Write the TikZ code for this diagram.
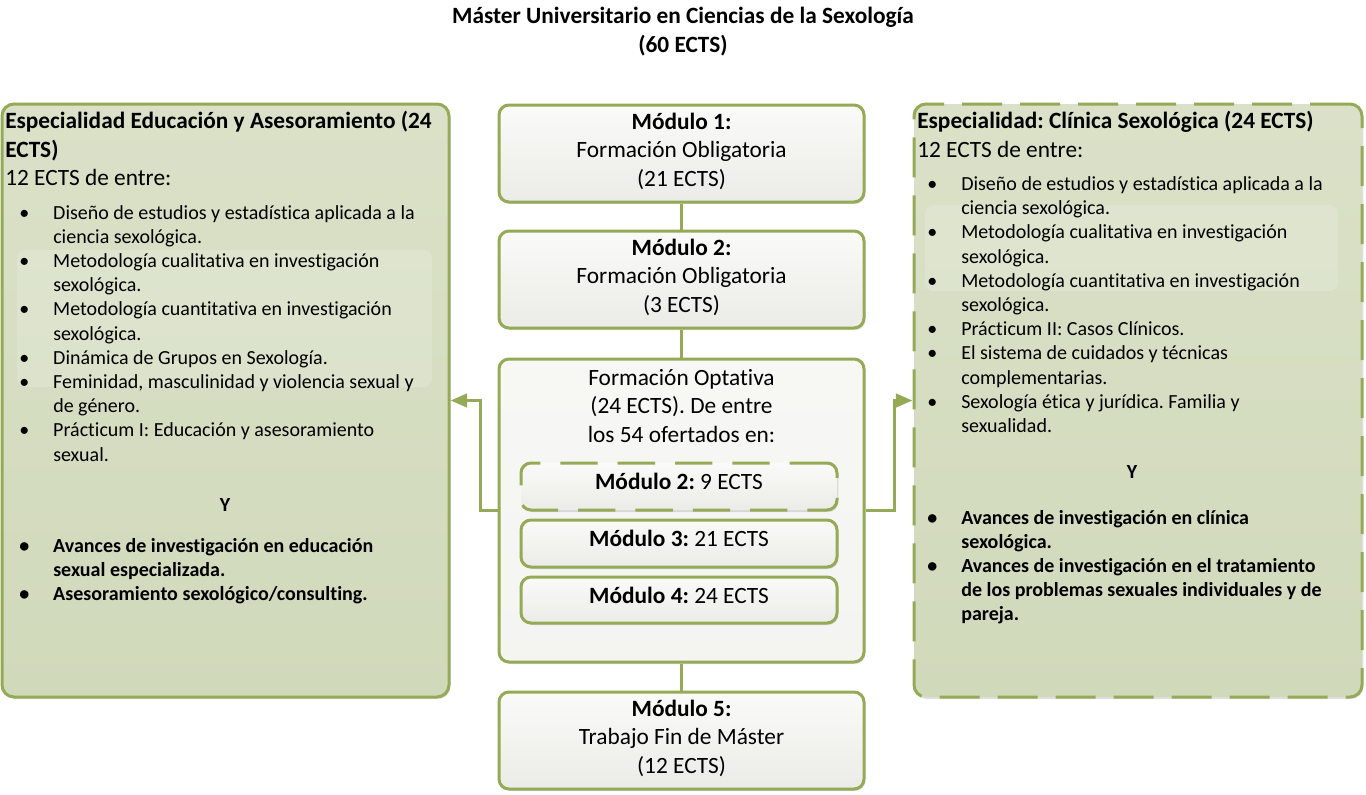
\documentclass[tikz,border=0pt]{standalone}
\usepackage{fontspec}
\setmainfont{Carlito}[Ligatures=NoCommon]
\usetikzlibrary{arrows.meta,shadows}
\definecolor{olv}{RGB}{148,170,86}
\definecolor{sidetop}{RGB}{218,225,200}
\definecolor{sidebot}{RGB}{209,217,187}
\definecolor{boxtop}{RGB}{250,250,248}
\definecolor{boxbot}{RGB}{235,236,231}
\newcommand\bigf{\fontsize{17.5pt}{21.4pt}\selectfont}
\newcommand\smf{\fontsize{15pt}{18.15pt}\selectfont}
\newcommand\bul{\par\hangindent=25.5pt\hangafter=1\noindent\makebox[25.5pt][l]{\textbullet}}
\newcommand\lowpad[1]{\rule[-#1]{0pt}{0pt}}
\frenchspacing
\tikzset{
  shd/.style={drop shadow={shadow xshift=1pt,shadow yshift=-1.5pt,opacity=0.25}},
  cbox/.style={draw=olv, line width=2.25pt, rounded corners=7.5pt, top color=boxtop, bottom color=boxbot,
    shd, font=\bigf, align=center, inner sep=0pt, minimum width=365*0.75pt, minimum height=97*0.75pt},
  ibox/.style={cbox, minimum width=316*0.75pt, minimum height=47*0.75pt},
  sbox/.style={draw=olv, line width=2.25pt, rounded corners=9pt, top color=sidetop, bottom color=sidebot,
    shd, inner sep=0pt, minimum width=447*0.75pt, minimum height=593*0.75pt},
  conn/.style={draw=olv, line width=2.5pt},
  arr/.style={conn, -{Triangle[length=12.5pt,width=10pt]}},
  txt/.style={anchor=base west, inner sep=0pt},
}
\begin{document}
\begin{tikzpicture}[x=0.75pt,y=-0.75pt]
\useasboundingbox (0,0) rectangle (1366,794);

% title
\node[font=\bigf\bfseries, align=center] (title) at (683,31.5) {Máster Universitario en Ciencias de la Sexología\\(60 ECTS)};

% side boxes
\node[sbox] (left) at (225.5,400.5) {};
\node[sbox, dash pattern=on 30pt off 13.5pt, minimum width=448*0.75pt] (right) at (1138,400.5) {};
\fill[white, opacity=0.16, rounded corners=6pt] (17,250) rectangle (432,387);
\fill[white, opacity=0.16, rounded corners=6pt] (925,205) rectangle (1338,291);

% center column
\node[cbox] (m1) at (681.5,153.5) {\textbf{Módulo 1:}\\Formación Obligatoria\\(21 ECTS)\lowpad{5.8pt}};
\node[cbox] (m2) at (681.5,279.5) {\textbf{Módulo 2:}\\Formación Obligatoria\\(3 ECTS)\lowpad{5.8pt}};
\node[cbox, minimum height=303*0.75pt, top color=boxtop!80!boxbot, bottom color=boxtop!60!boxbot] (opt) at (681.5,510.5) {};
\node[font=\bigf, align=center] (optt) at (681.5,406) {Formación Optativa\\(24 ECTS). De entre\\los 54 ofertados en:};
\node[ibox, dash pattern=on 28pt off 15pt] (o2) at (679,486.5) {\textbf{Módulo 2:} 9 ECTS\lowpad{7.5pt}};
\node[ibox] (o3) at (679,543.5) {\textbf{Módulo 3:} 21 ECTS\lowpad{7.5pt}};
\node[ibox, minimum height=46*0.75pt] (o4) at (679,600) {\textbf{Módulo 4:} 24 ECTS\lowpad{7.5pt}};
\node[cbox] (m5) at (681.5,740.5) {\textbf{Módulo 5:}\\Trabajo Fin de Máster\\(12 ECTS)\lowpad{5.8pt}};

% connectors
\draw[conn] (m1.south) -- (m2.north);
\draw[conn] (m2.south) -- (opt.north);
\draw[conn] (opt.south) -- (m5.north);
\draw[arr] (opt.west) -- ++(-17,0) |- (left.east);
\draw[arr] (opt.east) -- ++(29,0) |- (right.west);

% left box text
\node[txt, font=\bigf] (lhead) at (5,128.5) {\parbox[t]{340pt}{\textbf{Especialidad Educación y Asesoramiento (24\\ECTS)}\\12 ECTS de entre:}};
\node[txt, font=\smf] (llist) at (19,219) {\parbox[t]{320pt}{%
\bul Diseño de estudios y estadística aplicada a la\\ciencia sexológica.
\bul Metodología cualitativa en investigación\\sexológica.
\bul Metodología cuantitativa en investigación\\sexológica.
\bul Dinámica de Grupos en Sexología.
\bul Feminidad, masculinidad y violencia sexual y\\de género.
\bul Prácticum I: Educación y asesoramiento\\sexual.}};
\node[anchor=base, inner sep=0pt, font=\smf\bfseries] (ly) at (225,511) {Y};
\node[txt, font=\smf\bfseries] (lbold) at (19,552) {\parbox[t]{320pt}{%
\bul Avances de investigación en educación\\sexual especializada.
\bul Asesoramiento sexológico/consulting.}};

% right box text
\node[txt, font=\bigf] (rhead) at (917,128.5) {\parbox[t]{340pt}{\textbf{Especialidad: Clínica Sexológica (24 ECTS)}\\12 ECTS de entre:}};
\node[txt, font=\smf] (rlist) at (927,190.5) {\parbox[t]{320pt}{%
\bul Diseño de estudios y estadística aplicada a la\\ciencia sexológica.
\bul Metodología cualitativa en investigación\\sexológica.
\bul Metodología cuantitativa en investigación\\sexológica.
\bul Prácticum II: Casos Clínicos.
\bul El sistema de cuidados y técnicas\\complementarias.
\bul Sexología ética y jurídica. Familia y\\sexualidad.}};
\node[anchor=base, inner sep=0pt, font=\smf\bfseries] (ry) at (1132,478) {Y};
\node[txt, font=\smf\bfseries] (rbold) at (927,524) {\parbox[t]{320pt}{%
\bul Avances de investigación en clínica\\sexológica.
\bul Avances de investigación en el tratamiento\\de los problemas sexuales individuales y de\\pareja.}};
\end{tikzpicture}
\end{document}
